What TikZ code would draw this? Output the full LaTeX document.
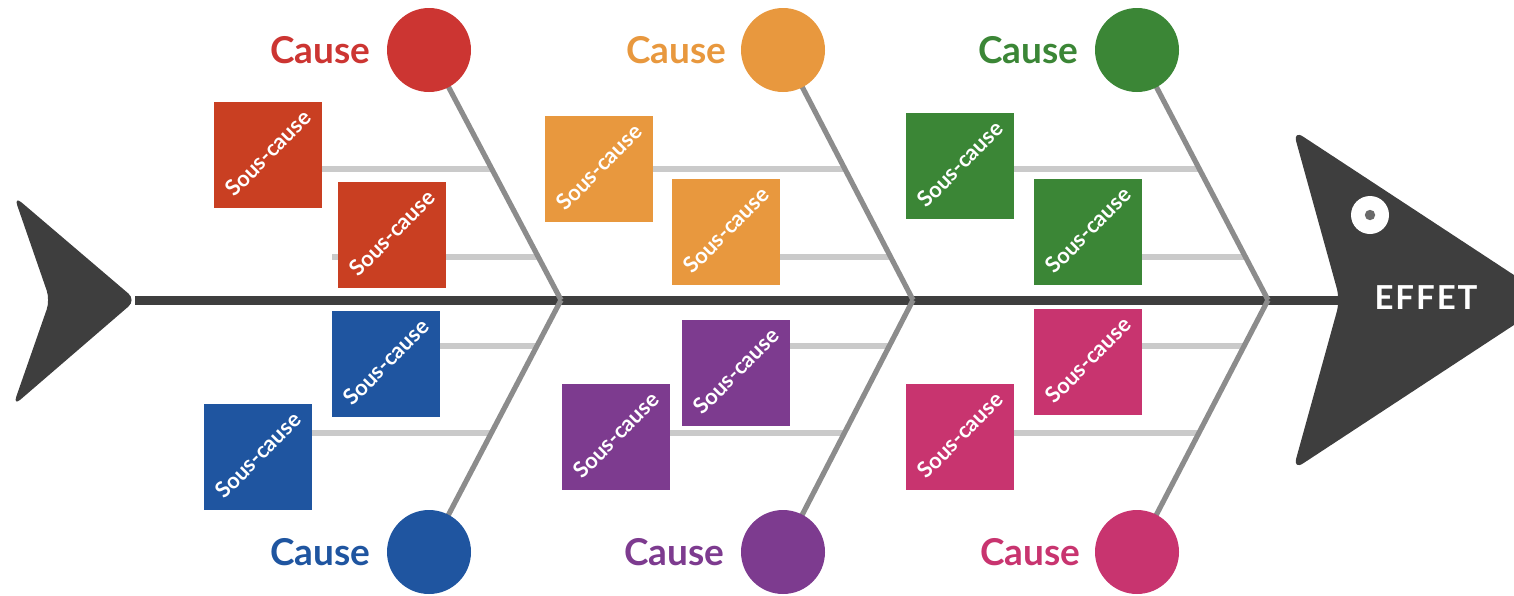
\documentclass[tikz,border=0pt]{standalone}
\usepackage{fontspec}
\setmainfont{Lato}
\usetikzlibrary{calc}
\definecolor{fishdark}{HTML}{3E3E3E}
\definecolor{bonegray}{HTML}{8C8C8C}
\definecolor{subgray}{HTML}{CACACA}
\definecolor{eyegray}{HTML}{6A6A6A}
\definecolor{cred}{HTML}{CC3532}
\definecolor{sred}{HTML}{C93F22}
\definecolor{corange}{HTML}{E8983E}
\definecolor{cgreen}{HTML}{3B8636}
\definecolor{cblue}{HTML}{1F55A0}
\definecolor{cpurple}{HTML}{7D3B8F}
\definecolor{cpink}{HTML}{C8346F}
\tikzset{
  causedot/.style={circle, minimum size=42pt, inner sep=0pt},
  subsq/.style={rectangle, minimum width=53.5pt, minimum height=52.5pt, inner sep=0pt},
  sctext/.style={rotate=45, text=white, font=\bfseries\fontsize{11}{13}\selectfont, inner sep=0pt},
  causelab/.style={anchor=east, inner sep=0pt, font=\bfseries\fontsize{18.5}{22}\selectfont},
  bone/.style={draw=bonegray, line width=2.6pt},
  subbone/.style={draw=subgray, line width=3pt},
  spine/.style={draw=fishdark, line width=4.5pt},
}
\begin{document}
\begin{tikzpicture}[x=0.5pt,y=-0.5pt]
\useasboundingbox (0,0) rectangle (1514,595);
\clip (0,0) rectangle (1514,595);
% tail and head
\fill[fishdark, rounded corners=5pt] (14,196) -- (136,300) -- (13,406) -- (50,300) -- cycle;
\fill[fishdark, rounded corners=6pt] (1293,130) -- (1552,300) -- (1293,470) -- (1340,300) -- cycle;
\fill[white] (1370,215) circle (9.5pt);
\fill[eyegray] (1370,215) circle (2.6pt);
\node[text=white, font=\bfseries\fontsize{16.5}{20}\selectfont\addfontfeature{LetterSpace=6}, inner sep=0pt] (effet) at (1426,298) {EFFET};
% joints and cause centres
\coordinate (tailj) at (135,300);
\coordinate (headj) at (1340,300);
\coordinate (j1) at (561,300);
\coordinate (j2) at (913,300);
\coordinate (j3) at (1268,300);
\coordinate (ct1) at (429,50);
\coordinate (ct2) at (783,50);
\coordinate (ct3) at (1137,50);
\coordinate (cb1) at (429,552);
\coordinate (cb2) at (783,552);
\coordinate (cb3) at (1137,552);
% spine
\draw[spine] (tailj) -- (headj);
% points on bones
\foreach \i in {1,2,3}{
  \coordinate (ta\i) at ($(ct\i)!0.476!(j\i)$);
  \coordinate (tb\i) at ($(ct\i)!0.828!(j\i)$);
  \coordinate (ba\i) at ($(j\i)!0.1825!(cb\i)$);
  \coordinate (bb\i) at ($(j\i)!0.528!(cb\i)$);
}
% squares (placed first as nodes, drawn later on top)
\path
  (268,155) node[subsq] (s1a) {}
  (392,235) node[subsq] (s1b) {}
  (599,169) node[subsq] (s2a) {}
  (726,232) node[subsq] (s2b) {}
  (960,166) node[subsq] (s3a) {}
  (1088,232) node[subsq] (s3b) {}
  (386,364) node[subsq] (u1a) {}
  (258,457) node[subsq] (u1b) {}
  (736,373) node[subsq] (u2a) {}
  (616,437) node[subsq] (u2b) {}
  (1088,362) node[subsq] (u3a) {}
  (960,437) node[subsq] (u3b) {};
% sub bones
\coordinate (red2end) at ([xshift=-3pt]s1b.west |- tb1);
\draw[subbone] (ta1) -- (s1a.center |- ta1);
\draw[subbone] (tb1) -- (red2end);
\draw[subbone] (ta2) -- (s2a.center |- ta2);
\draw[subbone] (tb2) -- (s2b.center |- tb2);
\draw[subbone] (ta3) -- (s3a.center |- ta3);
\draw[subbone] (tb3) -- (s3b.center |- tb3);
\draw[subbone] (ba1) -- (u1a.center |- ba1);
\draw[subbone] (bb1) -- (u1b.center |- bb1);
\draw[subbone] (ba2) -- (u2a.center |- ba2);
\draw[subbone] (bb2) -- (u2b.center |- bb2);
\draw[subbone] (ba3) -- (u3a.center |- ba3);
\draw[subbone] (bb3) -- (u3b.center |- bb3);
% bones
\foreach \i in {1,2,3}{
  \draw[bone] (ct\i) -- (j\i);
  \draw[bone] (j\i) -- (cb\i);
}
% square fills
\fill[sred] (s1a.south west) rectangle (s1a.north east);
\fill[sred] (s1b.south west) rectangle (s1b.north east);
\fill[corange] (s2a.south west) rectangle (s2a.north east);
\fill[corange] (s2b.south west) rectangle (s2b.north east);
\fill[cgreen] (s3a.south west) rectangle (s3a.north east);
\fill[cgreen] (s3b.south west) rectangle (s3b.north east);
\fill[cblue] (u1a.south west) rectangle (u1a.north east);
\fill[cblue] (u1b.south west) rectangle (u1b.north east);
\fill[cpurple] (u2a.south west) rectangle (u2a.north east);
\fill[cpurple] (u2b.south west) rectangle (u2b.north east);
\fill[cpink] (u3a.south west) rectangle (u3a.north east);
\fill[cpink] (u3b.south west) rectangle (u3b.north east);
\foreach \s in {s1a,s1b,s2a,s2b,s3a,s3b,u1a,u1b,u2a,u2b,u3a,u3b}{
  \node[sctext] (t\s) at ([yshift=1pt]\s.center) {Sous-cause};
}
% cause circles and labels
\node[causedot, fill=cred] (c1) at (ct1) {};
\node[causedot, fill=corange] (c2) at (ct2) {};
\node[causedot, fill=cgreen] (c3) at (ct3) {};
\node[causedot, fill=cblue] (c4) at (cb1) {};
\node[causedot, fill=cpurple] (c5) at (cb2) {};
\node[causedot, fill=cpink] (c6) at (cb3) {};
\node[causelab, text=cred] (l1) at ([xshift=-8pt]c1.west) {Cause};
\node[causelab, text=corange] (l2) at ([xshift=-7pt]c2.west) {Cause};
\node[causelab, text=cgreen] (l3) at ([xshift=-8pt]c3.west) {Cause};
\node[causelab, text=cblue] (l4) at ([xshift=-8pt]c4.west) {Cause};
\node[causelab, text=cpurple] (l5) at ([xshift=-8pt]c5.west) {Cause};
\node[causelab, text=cpink] (l6) at ([xshift=-7pt]c6.west) {Cause};
\end{tikzpicture}
\end{document}
